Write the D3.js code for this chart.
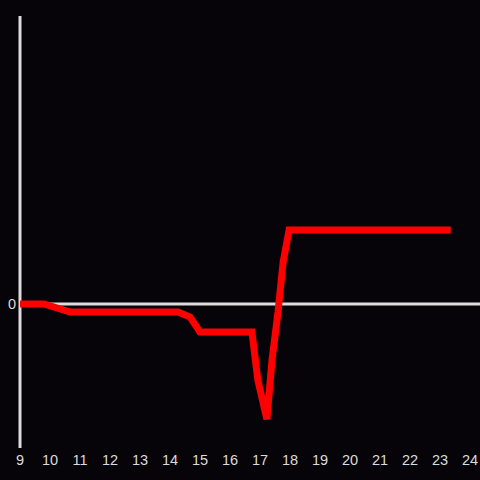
<!DOCTYPE html>
<html><head><meta charset="utf-8">
<script src="https://cdn.jsdelivr.net/npm/d3@7"></script>
<style>html,body{margin:0;padding:0;background:#060408;}svg{display:block;}</style>
</head><body>
<script>
const xs = [9, 9.8, 10.67, 14.27, 14.67, 15, 16.73, 16.93, 17.23, 17.4, 17.6, 17.77, 17.97, 23.36];
const ys = [0, 0, -0.056, -0.056, -0.09, -0.194, -0.194, -0.53, -0.80, -0.39, -0.056, 0.29, 0.514, 0.514];
const xTicks = [9,10,11,12,13,14,15,16,17,18,19,20,21,22,23,24];
const yTicks = [0];

const W = 480, H = 480;
const svg = d3.select("body").append("svg").attr("width", W).attr("height", H);
svg.append("rect").attr("width", W).attr("height", H).attr("fill", "#060408");
const x = d3.scaleLinear().domain([9, 24]).range([20, 470]);
const y = d3.scaleLinear().domain([-1, 2]).range([448, 16]);
const axisCol = "#dcdcdc";

// zero line
svg.append("line").attr("x1", x(9)).attr("x2", 480).attr("y1", y(0)).attr("y2", y(0))
  .attr("stroke", axisCol).attr("stroke-width", 3);
// y axis line
svg.append("line").attr("x1", x(9)).attr("x2", x(9)).attr("y1", y(2)).attr("y2", y(-1))
  .attr("stroke", axisCol).attr("stroke-width", 3);

svg.append("g").selectAll("text").data(xTicks).join("text")
  .attr("x", d => x(d)).attr("y", 465).attr("text-anchor", "middle")
  .attr("fill", axisCol).attr("font-family", "Liberation Sans, Arial, sans-serif").attr("font-size", 14.5)
  .text(d => d);
svg.append("g").selectAll("text").data(yTicks).join("text")
  .attr("x", 16).attr("y", y(0) + 5).attr("text-anchor", "end")
  .attr("fill", axisCol).attr("font-family", "Liberation Sans, Arial, sans-serif").attr("font-size", 14.5)
  .text(d => d);

const line = d3.line().x((d, i) => x(xs[i])).y((d, i) => y(ys[i]));
svg.append("path").datum(xs).attr("d", line).attr("fill", "none")
  .attr("stroke", "#ff0000").attr("stroke-width", 7).attr("stroke-linejoin", "miter");
</script>
</body></html>
